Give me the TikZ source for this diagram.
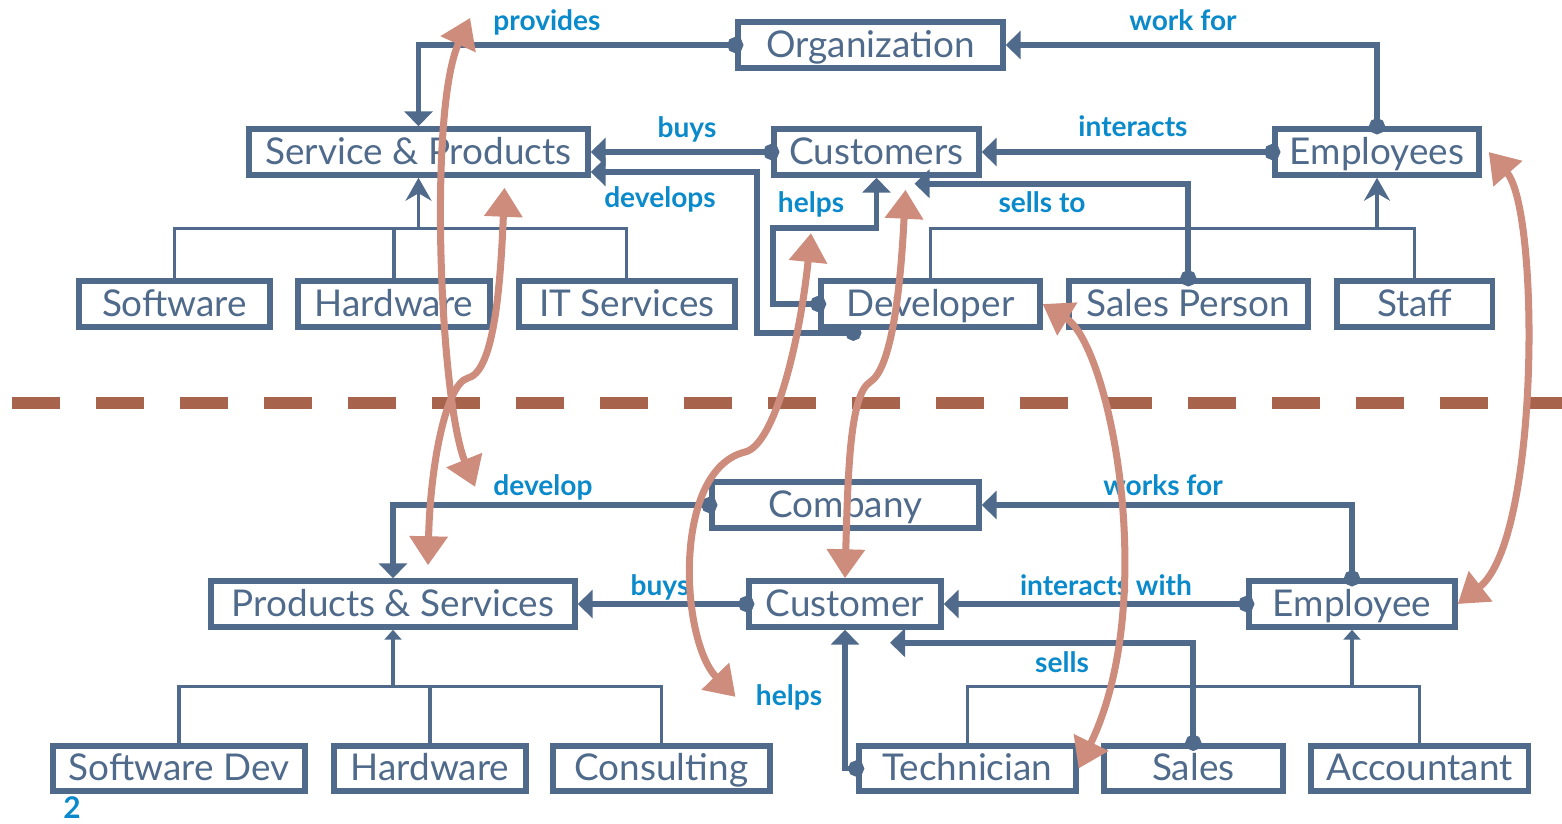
\documentclass[tikz,border=0pt]{standalone}
\usepackage{fontspec}
\setmainfont{Lato}
\usepackage{tikz}
\usetikzlibrary{positioning, arrows.meta, calc}
\definecolor{slate}{HTML}{4F6A8A}
\definecolor{linkblue}{HTML}{0A8ACA}
\definecolor{salmon}{HTML}{CD8C7C}
\definecolor{rust}{HTML}{A8634D}

\begin{document}
\begin{tikzpicture}[x=0.02cm,y=-0.02cm,
	rel/.style={draw=slate,line width=3.3pt,shorten <=-0.16cm,
		{Circle[length=0.32cm]}-{Triangle[length=0.3cm,width=0.56cm]}},
	tree/.style={draw=slate,line width=1.8pt},
	up/.style={tree,-{Stealth[length=0.46cm,width=0.52cm]}},
	upsmall/.style={tree,-{Triangle[length=0.2cm,width=0.34cm]}},
	lbl/.style={text=linkblue,inner sep=0pt,anchor=base,
		font=\bfseries\fontsize{16}{18}\selectfont},
	sal/.style={draw=salmon,line width=4pt,
		{Triangle[length=0.58cm,width=0.74cm]}-{Triangle[length=0.58cm,width=0.74cm]}}]
	\tikzstyle{box}=[draw=slate,line width=3.4pt,text=slate,inner sep=0pt,
		minimum height=0.91cm,text height=0.58cm,text depth=0.1cm,
		font=\fontsize{21}{24}\selectfont]
	\useasboundingbox (0,0) rectangle (1562,823);

	% ---- current model
	\node[box,minimum width=5.29cm] (org) at (870.5,45) {Organization};
	\node[box,minimum width=6.77cm] (sp) at (418.5,152) {Service \& Products};
	\node[box,minimum width=4.09cm] (custs) at (876.5,152) {Customers};
	\node[box,minimum width=4.07cm] (emps) at (1377,152) {Employees};
	\node[box,minimum width=3.81cm] (sw) at (174.5,304) {Software};
	\node[box,minimum width=3.83cm] (hw) [right of=sw,node distance=4.39cm] {Hardware};
	\node[box,minimum width=4.31cm] (it) [right of=hw,node distance=4.66cm] {IT Services};
	\node[box,minimum width=4.37cm] (dev) [right of=it,node distance=6.07cm] {Developer};
	\node[box,minimum width=4.77cm] (salesp) [right of=dev,node distance=5.16cm] {Sales Person};
	\node[box,minimum width=3.11cm] (staff) [right of=salesp,node distance=4.53cm] {Staff};

	\node[lbl] (provides) at (547,30) {provides};
	\node[lbl] (workfor) at (1183,30) {work for};
	\node[lbl] (buys1) at (687,137) {buys};
	\node[lbl] (interacts) at (1133,136) {interacts};
	\node[lbl] (develops) at (660,207) {develops};
	\node[lbl] (helps1) at (811,212) {helps};
	\node[lbl] (sellsto) at (1042,212) {sells to};

	\draw[rel] (org.west) -| (sp.north);
	\draw[rel] (emps.north) |- (org.east);
	\draw[rel] (custs.west) -- (sp.east);
	\draw[rel] (emps.west) -- (custs.east);
	\draw[rel] ($(dev.south)+(-77,3)$) -- ++(-96,0) |- ($(sp.east)+(0,20)$);
	\draw[rel] (dev.west) -- ++(-45,0) |- ($(custs.south)+(0,50)$) -- (custs.south);
	\coordinate (sellstip) at ($(custs.south)+(38,6)$);
	\draw[rel] (salesp.north) |- (sellstip);

	\draw[tree] (sw.north) -- ++(0,-50) -| (it.north);
	\draw[tree] (hw.north) -- ++(0,-50);
	\draw[up] ($(sp.south)+(0,50)$) -- (sp.south);
	\draw[tree] (dev.north) -- ++(0,-50) -| (staff.north);
	\draw[up] ($(emps.south)+(0,50)$) -- (emps.south);

	% ---- divider
	\draw[rust,line width=0.24cm,dash pattern=on 0.96cm off 0.72cm] (12,403) -- (1562,403);

	% ---- new model
	\node[box,minimum width=5.33cm] (comp) at (845.5,505) {Company};
	\node[box,minimum width=7.27cm] (ps) at (393,604) {Products \& Services};
	\node[box,minimum width=3.83cm] (cust) at (845,604) {Customer};
	\node[box,minimum width=4.11cm] (emp) at (1352,604) {Employee};
	\node[box,minimum width=5.03cm] (swd) at (179,768.5) {Software Dev};
	\node[box,minimum width=3.83cm] (hw2) [right of=swd,node distance=5.02cm] {Hardware};
	\node[box,minimum width=4.33cm] (cons) [right of=hw2,node distance=4.63cm] {Consulting};
	\node[box,minimum width=4.33cm] (tech) [right of=cons,node distance=6.12cm] {Technician};
	\node[box,minimum width=3.57cm] (sales) [right of=tech,node distance=4.52cm] {Sales};
	\node[box,minimum width=4.35cm] (acc) [right of=sales,node distance=4.53cm] {Accountant};

	\node[lbl] (develop) at (543,495) {develop};
	\node[lbl] (worksfor) at (1163,495) {works for};
	\node[lbl] (buys2) at (660,595) {buys};
	\node[lbl] (interactswith) at (1106,595) {interacts with};
	\node[lbl] (sells) at (1062,672) {sells};
	\node[lbl] (helps2) at (789,705) {helps};

	\draw[rel] (comp.west) -| (ps.north);
	\draw[rel] (emp.north) |- (comp.east);
	\draw[rel] (cust.west) -- (ps.east);
	\draw[rel] (emp.west) -- (cust.east);
	\draw[rel] (tech.west) -| (cust.south);
	\coordinate (sellsend) at ($(cust.south)+(45,13)$);
	\draw[rel] (sales.north) |- (sellsend);

	\draw[tree] (swd.north) -- ++(0,-56) -| (cons.north);
	\draw[tree] (hw2.north) -- ++(0,-56);
	\draw[upsmall] ($(ps.south)+(0,56)$) -- (ps.south);
	\draw[tree] (tech.north) -- ++(0,-56) -| (acc.north);
	\draw[upsmall] ($(emp.south)+(0,56)$) -- (emp.south);

	% ---- mapping between the two
	\draw[sal] ([xshift=-0.36cm]develop.west) .. controls (440,400) and (428,110) .. ([xshift=-0.46cm,yshift=0.08cm]provides.west);
	\draw[sal] ($(ps.north)+(35,-13)$) .. controls (430,470) and (445,384) .. (468,378)
		.. controls (492,372) and (500,300) .. ($(sp.south)+(86,10)$);
	\draw[sal] ([xshift=-0.4cm]helps2.west) .. controls (680,640) and (672,470) .. (745,452)
		.. controls (775,445) and (800,340) .. ([yshift=-0.32cm]helps1.south);
	\draw[sal] (cust.north) .. controls (848,470) and (850,395) .. (870,382)
		.. controls (890,370) and (900,300) .. ($(custs.south)+(29,12)$);
	\draw[sal] (tech.east) .. controls (1160,600) and (1110,345) .. (dev.east);
	\draw[sal] (emp.east) .. controls (1540,540) and (1540,210) .. ([xshift=0.14cm]emps.east);

	\node[lbl,font=\bfseries\fontsize{17}{19}\selectfont] (page) at (72,818) {2};
\end{tikzpicture}
\end{document}
